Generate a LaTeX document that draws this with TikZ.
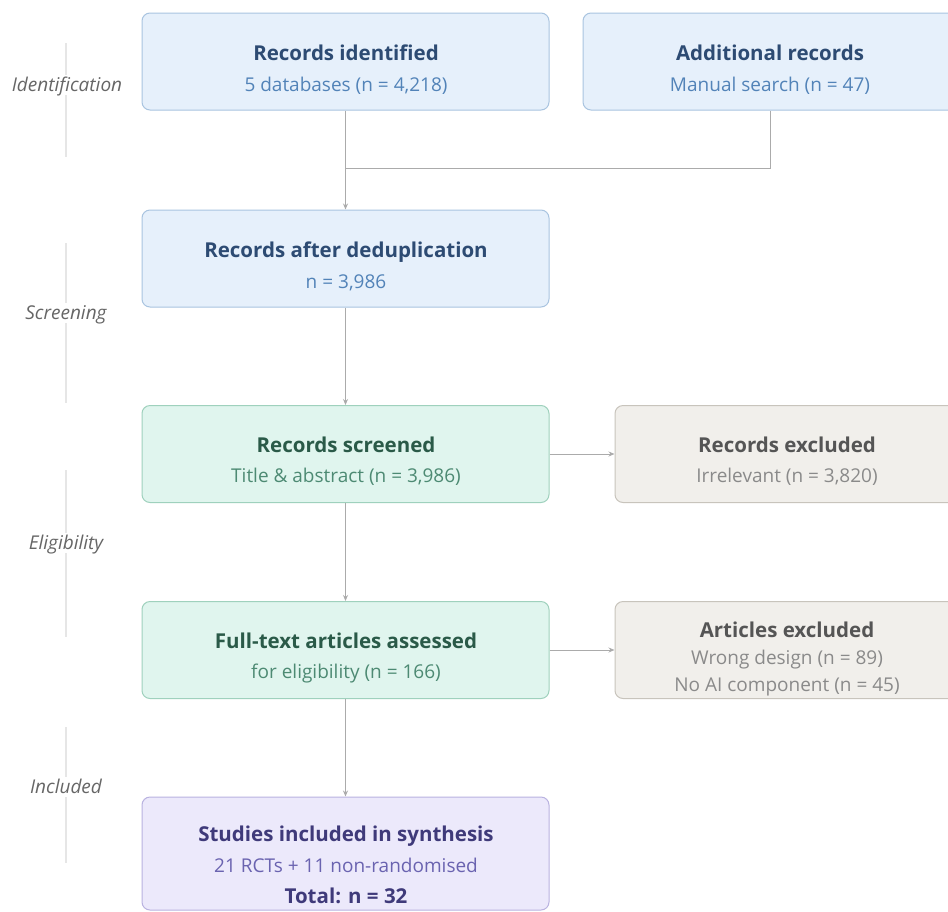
\documentclass[tikz,border=0pt]{standalone}
\usepackage{fontspec}
\setmainfont{Open Sans}
\usetikzlibrary{arrows.meta}
\definecolor{bfill}{HTML}{E6F0FB}\definecolor{bdraw}{HTML}{A9C4E0}
\definecolor{btitle}{HTML}{2D4B73}\definecolor{bsub}{HTML}{5283B8}
\definecolor{gfill}{HTML}{E0F5EE}\definecolor{gdraw}{HTML}{9FD1BD}
\definecolor{gtitle}{HTML}{2A5A48}\definecolor{gsub}{HTML}{4D8A73}
\definecolor{efill}{HTML}{F1EFEB}\definecolor{edraw}{HTML}{C8C4BC}
\definecolor{etitle}{HTML}{555555}\definecolor{esub}{HTML}{8A8A8A}
\definecolor{pfill}{HTML}{ECE9FB}\definecolor{pdraw}{HTML}{B9B2E0}
\definecolor{ptitle}{HTML}{3F3A7A}\definecolor{psub}{HTML}{6A63B0}
\definecolor{conn}{HTML}{ABABAB}\definecolor{phline}{HTML}{E6E6E6}
\definecolor{phtext}{HTML}{666666}
\tikzset{
  x=1pt,y=-1pt,
  box/.style={rounded corners=8pt, line width=1pt, inner sep=0pt, minimum height=97pt},
  bluebox/.style={box, fill=bfill, draw=bdraw},
  greenbox/.style={box, fill=gfill, draw=gdraw},
  exbox/.style={box, fill=efill, draw=edraw},
  purplebox/.style={box, fill=pfill, draw=pdraw},
  ttl/.style={inner sep=0pt, text height=14.6pt, text depth=0pt, font=\fontsize{20.5}{24}\selectfont\bfseries},
  sub/.style={inner sep=0pt, text height=13.5pt, text depth=0pt, font=\fontsize{19}{22}\selectfont},
  phase/.style={inner xsep=2pt, inner ysep=3pt, fill=white, text=phtext, text height=13.5pt, text depth=0pt, font=\fontsize{19}{22}\selectfont\itshape},
  phl/.style={draw=phline, line width=2pt},
  arr/.style={draw=conn, line width=1pt, -{Stealth[length=6pt,width=5pt]}},
  ln/.style={draw=conn, line width=1pt}
}
\begin{document}
\begin{tikzpicture}
\useasboundingbox (0,0) rectangle (948,911);
\clip (0,0) rectangle (948,911);
\fill[white] (0,0) rectangle (948,911);
% phase lines and labels
\draw[phl] (66,43) -- (66,157);
\node[phase] (p1) at (67,85) {Identification};
\draw[phl] (66,243) -- (66,403);
\node[phase] (p2) at (66,313) {Screening};
\draw[phl] (66,470) -- (66,637);
\node[phase] (p3) at (66,543) {Eligibility};
\draw[phl] (66,727) -- (66,863);
\node[phase] (p4) at (66,787) {Included};
% boxes
\node[bluebox, minimum width=407pt] (id) at (345.5,61.5) {};
\node[ttl, text=btitle] (idT) at (346,53.5) {Records identified};
\node[sub, text=bsub] (idS) at (346,85) {5 databases (n = 4,218)};
\node[bluebox, minimum width=374pt] (ad) at (770,61.5) {};
\node[ttl, text=btitle] (adT) at (770,53.5) {Additional records};
\node[sub, text=bsub] (adS) at (770,85) {Manual search (n = 47)};
\node[bluebox, minimum width=407pt] (dd) at (345.5,258.5) {};
\node[ttl, text=btitle] (ddT) at (346,250) {Records after deduplication};
\node[sub, text=bsub] (ddS) at (346,281.5) {n = 3,986};
\node[greenbox, minimum width=407pt] (sc) at (345.5,454) {};
\node[ttl, text=gtitle] (scT) at (346,445) {Records screened};
\node[sub, text=gsub] (scS) at (346,476) {Title \& abstract (n = 3,986)};
\node[exbox, minimum width=344pt] (ex1) at (787,454) {};
\node[ttl, text=etitle] (ex1T) at (787,445) {Records excluded};
\node[sub, text=esub] (ex1S) at (787,476) {Irrelevant (n = 3,820)};
\node[greenbox, minimum width=407pt] (ft) at (345.5,650) {};
\node[ttl, text=gtitle] (ftT) at (346,641) {Full-text articles assessed};
\node[sub, text=gsub] (ftS) at (346,672) {for eligibility (n = 166)};
\node[exbox, minimum width=344pt] (ex2) at (787,650) {};
\node[ttl, text=etitle] (ex2T) at (787,630) {Articles excluded};
\node[sub, text=esub] (ex2S) at (787,658) {Wrong design (n = 89)};
\node[sub, text=esub] (ex2S2) at (787,685) {No AI component (n = 45)};
\node[purplebox, minimum width=407pt, minimum height=113pt] (in) at (345.5,853.5) {};
\node[ttl, text=ptitle] (inT) at (346,834) {Studies included in synthesis};
\node[sub, text=psub] (inS) at (346,866) {21 RCTs + 11 non-randomised};
\node[ttl, text=ptitle] (inS2) at (346,896.5) {Total: n = 32};
% connectors
\coordinate (mg) at (346,168);
\draw[arr] (id.south) -- (dd.north);
\draw[ln] (ad.south) |- (mg);
\draw[arr] (dd.south) -- (sc.north);
\draw[arr] (sc.east) -- (ex1.west);
\draw[arr] (sc.south) -- (ft.north);
\draw[arr] (ft.east) -- (ex2.west);
\draw[arr] (ft.south) -- (in.north);
\end{tikzpicture}
\end{document}
